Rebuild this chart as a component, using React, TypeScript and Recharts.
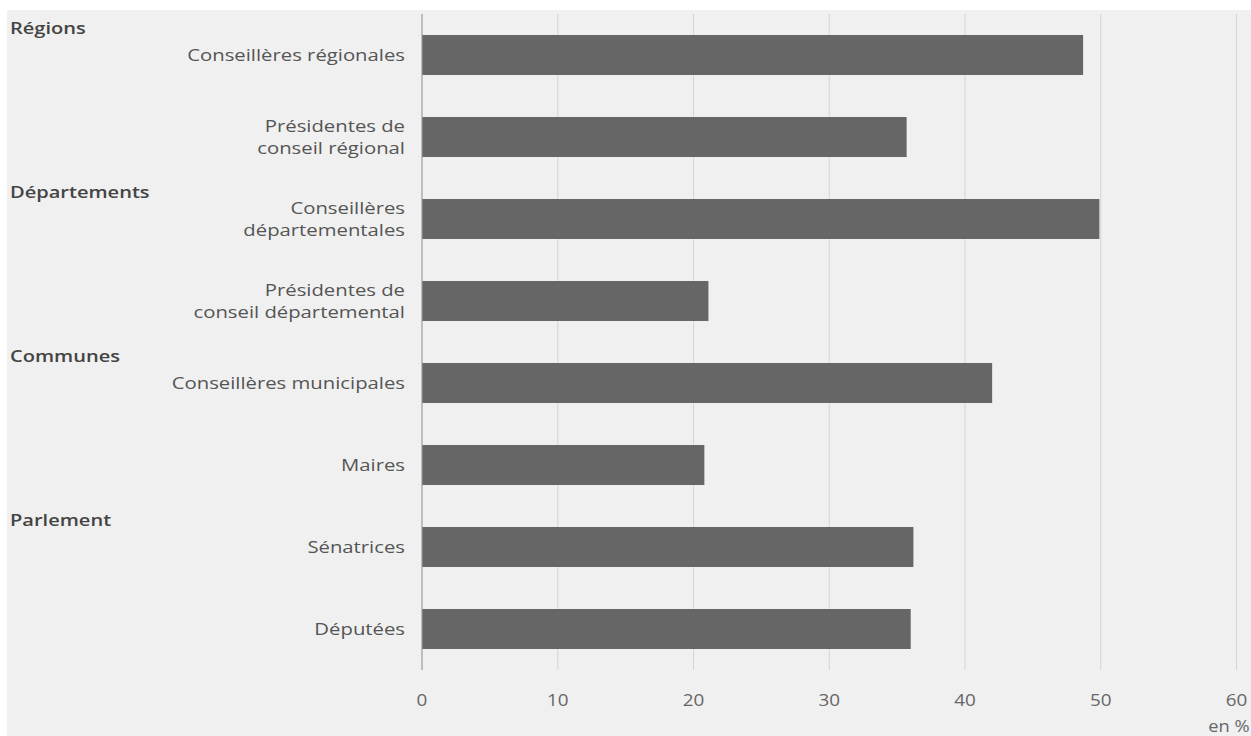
import { Bar, BarChart, CartesianGrid, XAxis, YAxis } from "recharts";

// Postes (les retours à la ligne suivent ceux du graphique)
const categories = [
  "Conseillères régionales",
  "Présidentes de\nconseil régional",
  "Conseillères\ndépartementales",
  "Présidentes de\nconseil départemental",
  "Conseillères municipales",
  "Maires",
  "Sénatrices",
  "Députées",
];

// Part des femmes, en %
const shares = [48.7, 35.7, 49.9, 21.1, 42.0, 20.8, 36.2, 36.0];

// Groupes : nom et index du premier poste du groupe
const groupNames = ["Régions", "Départements", "Communes", "Parlement"];
const groupStarts = [0, 2, 4, 6];

const xTicks = [0, 10, 20, 30, 40, 50, 60];

const data = categories.map((name, i) => ({ name, value: shares[i] }));

const FONT = "'Open Sans', sans-serif";
// le texte de l'original est un peu étiré en largeur
const STRETCH = 1.18;

function CategoryTick(props: any) {
  const { x, y, payload, index } = props;
  const lines = String(payload.value).split("\n");
  const lineH = 22.5;
  const startY = -((lines.length - 1) * lineH) / 2;
  const g = groupStarts.indexOf(index);
  return (
    <g>
      {g >= 0 && (
        <text
          transform={`translate(10, ${y - 27}) scale(${STRETCH}, 1)`}
          dy="0.35em"
          fill="#444"
          fontSize={17}
          fontWeight={600}
          fontFamily={FONT}
        >
          {groupNames[g]}
        </text>
      )}
      <text
        transform={`translate(${x}, ${y}) scale(${STRETCH}, 1)`}
        textAnchor="end"
        fill="#555"
        fontSize={17.2}
        fontFamily={FONT}
      >
        {lines.map((line, i) => (
          <tspan key={i} x={0} y={startY + i * lineH} dy="0.35em">
            {line}
          </tspan>
        ))}
      </text>
    </g>
  );
}

function ValueTick(props: any) {
  const { x, y, payload } = props;
  return (
    <text
      transform={`translate(${x}, ${y}) scale(${STRETCH}, 1)`}
      textAnchor="middle"
      dy="0.35em"
      fill="#666"
      fontSize={16}
      fontFamily={FONT}
    >
      {payload.value}
    </text>
  );
}

function UnitLabel(props: any) {
  const { viewBox } = props;
  const x = viewBox.x + viewBox.width + 13;
  const y = viewBox.y + 57;
  return (
    <text
      transform={`translate(${x}, ${y}) scale(${STRETCH}, 1)`}
      textAnchor="end"
      dy="0.35em"
      fill="#666"
      fontSize={15.5}
      fontFamily={FONT}
    >
      en %
    </text>
  );
}

export default function App() {
  return (
    <div
      style={{
        position: "absolute",
        left: 0,
        top: 0,
        width: 1251,
        height: 736,
        background: "#fff",
        overflow: "hidden",
      }}
    >
      <div
        style={{
          position: "absolute",
          left: 7,
          top: 10,
          right: 0,
          bottom: 0,
          background: "#f0f0f0",
        }}
      />
      <div style={{ position: "absolute", left: 0, top: 0 }}>
        <BarChart
          width={1251}
          height={736}
          data={data}
          layout="vertical"
          margin={{ top: 14, right: 14.5, left: 0, bottom: 0 }}
        >
          <CartesianGrid horizontal={false} stroke="#d4d4d4" />
          <XAxis
            type="number"
            domain={[0, 60]}
            ticks={xTicks}
            height={66}
            axisLine={false}
            tickLine={false}
            tickSize={0}
            tickMargin={30}
            tick={<ValueTick />}
            label={<UnitLabel />}
          />
          <YAxis
            type="category"
            dataKey="name"
            width={422}
            axisLine={{ stroke: "#999" }}
            tickLine={false}
            tickSize={0}
            tickMargin={17}
            interval={0}
            tick={<CategoryTick />}
          />
          <Bar
            dataKey="value"
            fill="#666"
            barSize={40}
            isAnimationActive={false}
          />
        </BarChart>
      </div>
    </div>
  );
}
